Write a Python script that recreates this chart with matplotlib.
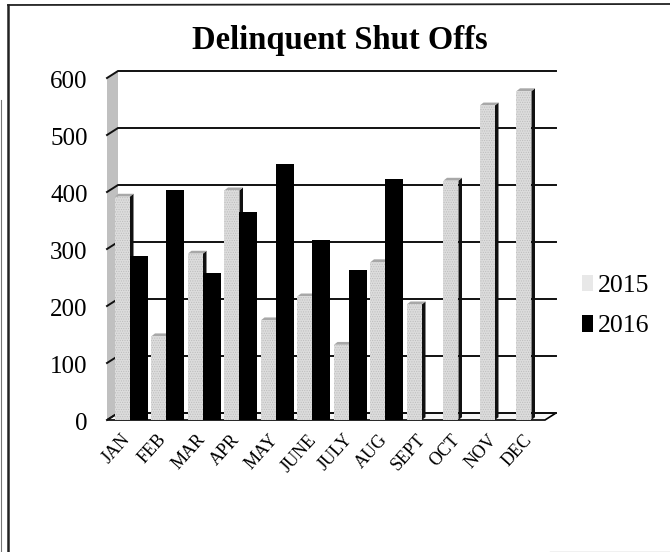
import matplotlib
matplotlib.use("Agg")
import matplotlib.pyplot as plt
from matplotlib.patches import Polygon, Rectangle
from matplotlib.lines import Line2D
import numpy as np

plt.rcParams['font.family'] = ['Liberation Serif', 'DejaVu Serif']
plt.rcParams['hatch.linewidth'] = 0.5
plt.rcParams['hatch.color'] = '#8c8c8c'

months = ['JAN','FEB','MAR','APR','MAY','JUNE','JULY','AUG','SEPT','OCT','NOV','DEC']
v2015 = [392,147,292,403,175,217,132,277,203,420,552,577]
v2016 = [288,403,258,365,450,315,263,423,0,0,0,0]
yticks = [0,100,200,300,400,500,600]

W,H = 670,552
fig = plt.figure(figsize=(W/100,H/100),dpi=100,facecolor='white')
L,R,T,B = 107,545,78,420
ax = fig.add_axes([L/W,1-B/H,(R-L)/W,(B-T)/H])
ax.set_xlim(-0.63,11.37); ax.set_ylim(0,600)
ax.patch.set_alpha(0)
for s in ax.spines.values(): s.set_visible(False)
ax.set_xticks(range(12)); ax.set_xticklabels([])
ax.set_yticks(yticks); ax.set_yticklabels([])
ax.tick_params(length=0)

px = (11.37+0.63)/(R-L)   # data x per pixel
py = 600/(B-T)            # data y per pixel
dx,dy = 11*px, 7*py       # depth of the 3-D box
x0,x1 = -0.63,11.37

# walls & floor
ax.add_patch(Polygon([(x0,0),(x0+dx,dy),(x0+dx,600+dy),(x0,600)],closed=True,fc='#c0c0c0',ec='none',zorder=1,clip_on=False,hatch='.....'))
ax.add_patch(Polygon([(x0,0),(x1,0),(x1+dx,dy),(x0+dx,dy)],closed=True,fc='#f6f6f6',ec='black',lw=1.2,zorder=1,clip_on=False))
for t in yticks:
    ax.plot([x0,x0+dx,x1+dx],[t,t+dy,t+dy],color='#111111',lw=1.4,zorder=2,clip_on=False,solid_joinstyle='miter')

fw,sw,bw = 15*px,3.5*px,18*px
for i,(a,b) in enumerate(zip(v2015,v2016)):
    # 2015: dithered front, dark side
    ax.add_patch(Polygon([(i,0),(i+sw,dy*0.4),(i+sw,a+dy*0.4),(i,a)],closed=True,fc='#111111',ec='none',zorder=3,clip_on=False))
    ax.add_patch(Polygon([(i-fw,a),(i,a),(i+sw,a+dy*0.4),(i-fw+sw,a+dy*0.4)],closed=True,fc='#a8a8a8',ec='none',zorder=3,clip_on=False))
    ax.bar(i-fw/2,a,width=fw,color='#dcdcdc',edgecolor='#bdbdbd',hatch='.......',lw=0,zorder=4)
    if b>0:
        ax.bar(i+bw/2,b,width=bw,color='black',lw=0,zorder=5)

# tick labels
for t in yticks:
    ax.annotate(str(t),(x0,t),xytext=(-14,-3),textcoords='offset points',ha='right',va='center',
                fontsize=18,color='black',annotation_clip=False)
for i,m in enumerate(months):
    ax.annotate(m,(i,0),xytext=(-10,-8),textcoords='offset points',rotation=48,ha='center',va='top',
                fontsize=13,color='black',annotation_clip=False)

fig.text(340/W,1-41/H,'Delinquent Shut Offs',ha='center',va='center',fontsize=23.5,fontweight='bold',color='black')

# legend
h = [Rectangle((0,0),1,1,fc='#e8e8e8',ec='none',hatch='......'),Rectangle((0,0),1,1,fc='black',ec='none')]
fig.legend(h,['2015','2016'],loc='center left',bbox_to_anchor=(582/W,1-306/H),frameon=False,fontsize=18.5,
           handlelength=0.42,handleheight=0.6,handletextpad=0.2,labelspacing=0.72,borderpad=0,borderaxespad=0)

# page frame
fig.add_artist(Line2D([8/W,8/W],[0,1-5/H],color='#222222',lw=1.8))
fig.add_artist(Line2D([0.5/W,0.5/W],[0,1-100/H],color='#777777',lw=0.8))
fig.add_artist(Line2D([8/W,1],[1-5/H,1-4/H],color='#222222',lw=1.3))
fig.add_artist(Line2D([550/W,1],[0.5/H,0.5/H],color='#bbbbbb',lw=1))

fig.savefig('out.png',dpi=100)
